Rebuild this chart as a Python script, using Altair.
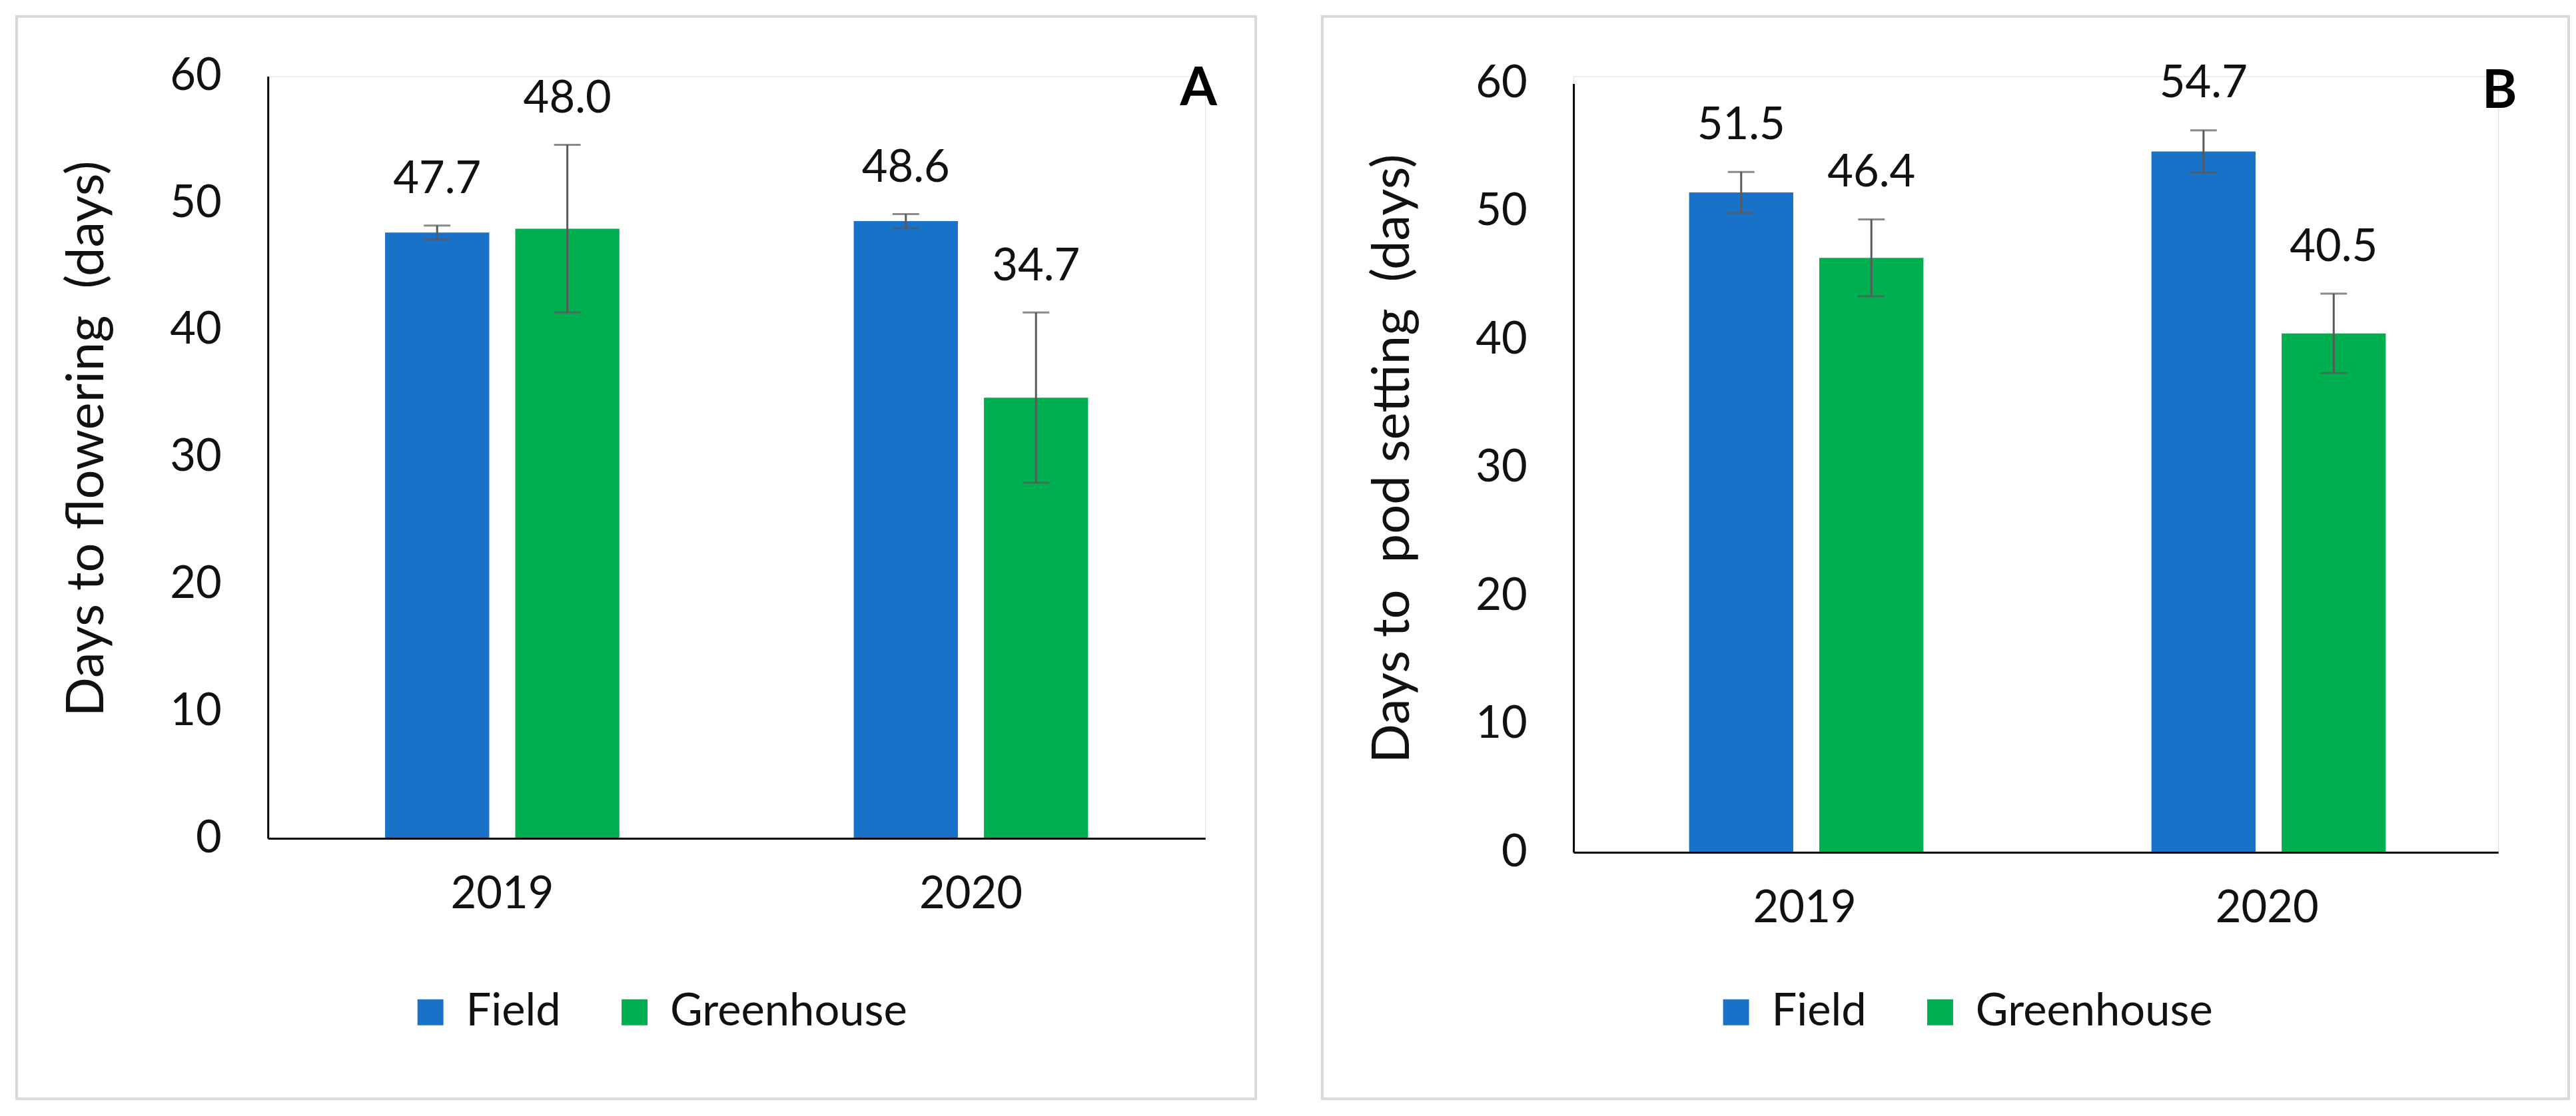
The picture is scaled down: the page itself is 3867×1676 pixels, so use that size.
import altair as alt
import pandas as pd

# ---- data ----
years = ["2019", "2020"]
series = ["Field", "Greenhouse"]

flower_field = [47.7, 48.6]
flower_field_err = [0.55, 0.55]
flower_green = [48.0, 34.7]
flower_green_err = [6.6, 6.7]

pod_field = [51.5, 54.7]
pod_field_err = [1.6, 1.65]
pod_green = [46.4, 40.5]
pod_green_err = [3.0, 3.1]

y_ticks = [0, 10, 20, 30, 40, 50, 60]
colors = ["#1872C8", "#00B050"]

FONT = "Lato"
LABEL_GAP = 3.6  # data-units between error-bar top and value label


def panel(f_vals, f_err, g_vals, g_err, ytitle, letter,
          W, H, y_top, frame_r, title_y, tag_x, tag_y):
    df = pd.DataFrame({
        "year": years * 2,
        "series": [series[0]] * 2 + [series[1]] * 2,
        "value": f_vals + g_vals,
        "err": f_err + g_err,
    })
    df["lo"] = df["value"] - df["err"]
    df["hi"] = df["value"] + df["err"]
    df["label_y"] = df["hi"] + LABEL_GAP
    df["label"] = df["value"].map(lambda v: f"{v:.1f}")

    x_axis = alt.Axis(title=None, labelAngle=0, ticks=False, domain=True,
                      domainColor="#000000", domainWidth=3, zindex=2,
                      labelFont=FONT, labelFontSize=67, labelColor="#111111",
                      labelPadding=52, grid=False)
    y_axis = alt.Axis(title=ytitle, values=y_ticks, ticks=False, grid=False,
                      domain=True, domainColor="#000000", domainWidth=3,
                      zindex=2,
                      labelFont=FONT, labelFontSize=67, labelColor="#111111",
                      labelPadding=70, titleFont=FONT, titleFontSize=78,
                      titleFontWeight="normal", titleColor="#111111",
                      titlePadding=84, titleY=title_y)
    x = alt.X("year:N", sort=years,
              scale=alt.Scale(paddingInner=0.5, paddingOuter=0.25),
              axis=x_axis)
    xo = alt.XOffset("series:N", sort=series,
                     scale=alt.Scale(paddingInner=0.2, paddingOuter=0))
    yscale = alt.Scale(domain=[0, 60], nice=False, zero=True,
                       range=[H, y_top])

    base = alt.Chart(df)
    frame = alt.Chart(pd.DataFrame({"k": [0]})).mark_rect(
        filled=False, stroke="#D9D9D9", strokeWidth=4
    ).encode(x=alt.value(-378), x2=alt.value(W + frame_r),
             y=alt.value(-90), y2=alt.value(1539))

    bars = base.mark_bar().encode(
        x=x, xOffset=xo,
        y=alt.Y("value:Q", scale=yscale, axis=y_axis),
        color=alt.Color("series:N", sort=series,
                        scale=alt.Scale(domain=series, range=colors),
                        legend=alt.Legend(title=None, orient="none",
                                          direction="horizontal",
                                          legendX=211, legendY=1375,
                                          symbolType="square",
                                          symbolSize=1521,
                                          symbolStrokeWidth=0,
                                          labelFont=FONT, labelFontSize=67,
                                          labelColor="#111111",
                                          labelOffset=20, columnPadding=77,
                                          padding=0, labelLimit=600)),
    )
    rules = base.mark_rule(color="#595959", strokeWidth=3).encode(
        x=x, xOffset=xo,
        y=alt.Y("lo:Q", scale=yscale, axis=y_axis), y2="hi:Q")
    cap_hi = base.mark_tick(color="#595959", size=40, thickness=3).encode(
        x=x, xOffset=xo, y=alt.Y("hi:Q", scale=yscale, axis=y_axis))
    cap_lo = base.mark_tick(color="#595959", size=40, thickness=3).encode(
        x=x, xOffset=xo, y=alt.Y("lo:Q", scale=yscale, axis=y_axis))
    labels = base.mark_text(font=FONT, fontSize=67, color="#111111",
                            baseline="middle", align="center").encode(
        x=x, xOffset=xo,
        y=alt.Y("label_y:Q", scale=yscale, axis=y_axis),
        text="label:N")
    tag = alt.Chart(pd.DataFrame({"t": [letter]})).mark_text(
        font=FONT, fontSize=80, fontWeight="bold", color="#000000",
        baseline="middle", align="center"
    ).encode(x=alt.value(tag_x), y=alt.value(tag_y), text="t:N")

    return alt.layer(frame, bars, rules, cap_hi, cap_lo, labels, tag).properties(
        width=W, height=H)


nb = "\u00a0"
pa = panel(flower_field, flower_field_err, flower_green, flower_green_err,
           f"Days to flowering {nb}(days)", "A",
           W=1410, H=1147, y_top=0, frame_r=76,
           title_y=545, tag_x=1400, tag_y=20)
pb = panel(pod_field, pod_field_err, pod_green, pod_green_err,
           f"Days to {nb}pod setting {nb}(days)", "B",
           W=1391, H=1168, y_top=11, frame_r=106,
           title_y=575, tag_x=1393, tag_y=24)

chart = alt.hconcat(pa, pb, spacing=94).resolve_scale(
    color="independent").resolve_legend(color="independent").properties(
    padding={"left": 14, "top": 12, "right": 0, "bottom": 0}
).configure_view(stroke=None).configure(font=FONT)

chart.save("out.html", embed_options={"renderer": "svg", "actions": False})
